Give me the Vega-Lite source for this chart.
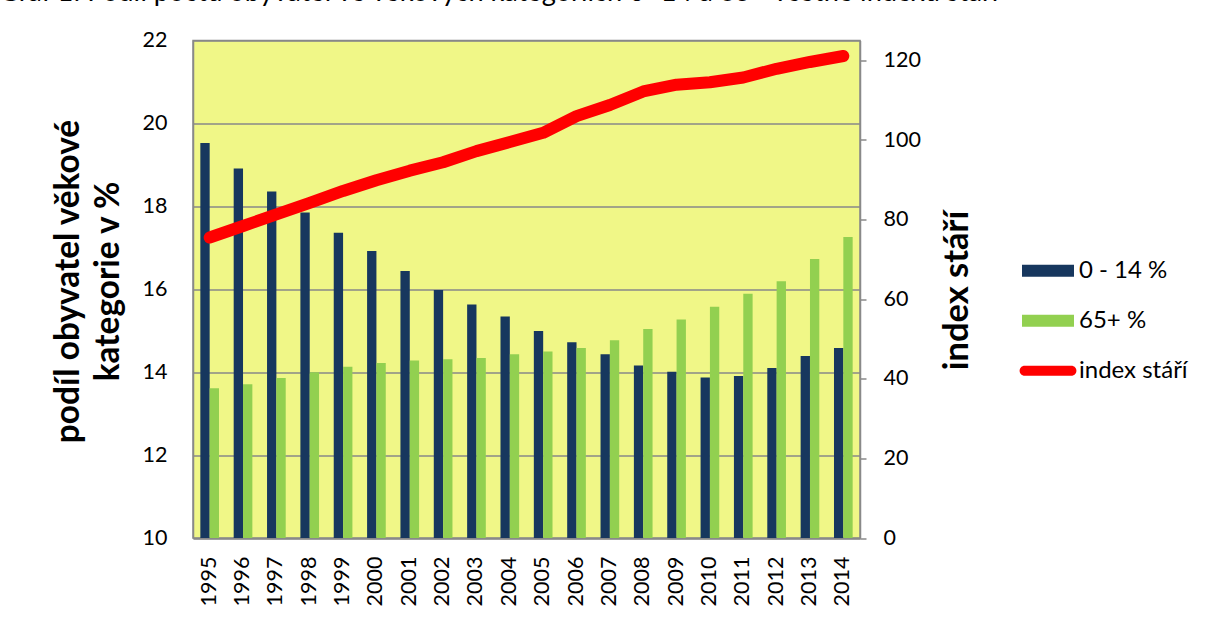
{
  "$schema": "https://vega.github.io/schema/vega-lite/v6.json",
  "width": 667,
  "height": 497.5,
  "autosize": {"type": "none"},
  "padding": {"left": 193, "top": 40.5, "right": 345, "bottom": 81},
  "background": "white",
  "config": {
    "font": "Lato",
    "view": {"fill": "#F0F787", "stroke": "#898989", "strokeWidth": 1.5},
    "axis": {"labelColor": "#000000", "labelFontSize": 21.5, "labelFont": "Lato", "domainColor": "#898989", "domainWidth": 1.5, "titleColor": "#000000", "titleFont": "Lato"},
    "legend": {"labelFont": "Lato", "labelFontSize": 24, "labelColor": "#000000"}
  },
  "title": {
    "text": "Graf 1: Podíl počtu obyvatel ve věkových kategoriích 0–14 a 65+ včetně indexu stáří",
    "anchor": "start",
    "frame": "group",
    "dx": -194,
    "offset": 1.5,
    "baseline": "alphabetic",
    "fontSize": 27.2,
    "fontWeight": "normal",
    "font": "Lato",
    "color": "#000000"
  },
  "datasets": {
    "bars": [
      {"year": "1995", "series": "0 - 14 %", "value": 19.53}, {"year": "1995", "series": "65+ %", "value": 13.61},
      {"year": "1996", "series": "0 - 14 %", "value": 18.91}, {"year": "1996", "series": "65+ %", "value": 13.71},
      {"year": "1997", "series": "0 - 14 %", "value": 18.36}, {"year": "1997", "series": "65+ %", "value": 13.86},
      {"year": "1998", "series": "0 - 14 %", "value": 17.85}, {"year": "1998", "series": "65+ %", "value": 14.0},
      {"year": "1999", "series": "0 - 14 %", "value": 17.36}, {"year": "1999", "series": "65+ %", "value": 14.13},
      {"year": "2000", "series": "0 - 14 %", "value": 16.92}, {"year": "2000", "series": "65+ %", "value": 14.22},
      {"year": "2001", "series": "0 - 14 %", "value": 16.44}, {"year": "2001", "series": "65+ %", "value": 14.28},
      {"year": "2002", "series": "0 - 14 %", "value": 15.98}, {"year": "2002", "series": "65+ %", "value": 14.31},
      {"year": "2003", "series": "0 - 14 %", "value": 15.63}, {"year": "2003", "series": "65+ %", "value": 14.34},
      {"year": "2004", "series": "0 - 14 %", "value": 15.34}, {"year": "2004", "series": "65+ %", "value": 14.43},
      {"year": "2005", "series": "0 - 14 %", "value": 14.99}, {"year": "2005", "series": "65+ %", "value": 14.5},
      {"year": "2006", "series": "0 - 14 %", "value": 14.72}, {"year": "2006", "series": "65+ %", "value": 14.58},
      {"year": "2007", "series": "0 - 14 %", "value": 14.43}, {"year": "2007", "series": "65+ %", "value": 14.77},
      {"year": "2008", "series": "0 - 14 %", "value": 14.16}, {"year": "2008", "series": "65+ %", "value": 15.04},
      {"year": "2009", "series": "0 - 14 %", "value": 14.01}, {"year": "2009", "series": "65+ %", "value": 15.27},
      {"year": "2010", "series": "0 - 14 %", "value": 13.87}, {"year": "2010", "series": "65+ %", "value": 15.58},
      {"year": "2011", "series": "0 - 14 %", "value": 13.91}, {"year": "2011", "series": "65+ %", "value": 15.89},
      {"year": "2012", "series": "0 - 14 %", "value": 14.1}, {"year": "2012", "series": "65+ %", "value": 16.19},
      {"year": "2013", "series": "0 - 14 %", "value": 14.39}, {"year": "2013", "series": "65+ %", "value": 16.73},
      {"year": "2014", "series": "0 - 14 %", "value": 14.58}, {"year": "2014", "series": "65+ %", "value": 17.26}
    ],
    "index": [
      {"year": "1995", "index": 75.5}, {"year": "1996", "index": 78.4}, {"year": "1997", "index": 81.3},
      {"year": "1998", "index": 84.2}, {"year": "1999", "index": 87.2}, {"year": "2000", "index": 89.9},
      {"year": "2001", "index": 92.3}, {"year": "2002", "index": 94.4}, {"year": "2003", "index": 97.2},
      {"year": "2004", "index": 99.5}, {"year": "2005", "index": 101.8}, {"year": "2006", "index": 106.0},
      {"year": "2007", "index": 108.8}, {"year": "2008", "index": 112.2}, {"year": "2009", "index": 113.9},
      {"year": "2010", "index": 114.5}, {"year": "2011", "index": 115.7}, {"year": "2012", "index": 117.9},
      {"year": "2013", "index": 119.6}, {"year": "2014", "index": 121.1}
    ]
  },
  "layer": [
    {
      "data": {"name": "bars"},
      "mark": {"type": "bar"},
      "encoding": {
        "x": {
          "field": "year", "type": "ordinal",
          "scale": {"paddingInner": 0.44, "paddingOuter": 0.22},
          "axis": {"title": null, "labelAngle": 270, "labelPadding": 18, "ticks": false, "domain": true}
        },
        "xOffset": {"field": "series", "type": "nominal", "scale": {"domain": ["0 - 14 %", "65+ %"], "paddingInner": 0, "paddingOuter": 0}},
        "y": {
          "field": "value", "type": "quantitative",
          "scale": {"domain": [10, 22], "nice": false, "zero": false},
          "axis": {
            "values": [10, 12, 14, 16, 18, 20, 22],
            "ticks": false,
            "labelPadding": 26,
            "grid": true,
            "gridColor": "#898989",
            "gridWidth": 1.5,
            "title": ["podíl obyvatel věkové", "kategorie v %"],
            "titleFontSize": 33.4,
            "titleFontWeight": "bold",
            "titleAngle": 270,
            "titleX": -125,
            "titleY": 240.5,
            "titleAlign": "center",
            "titleBaseline": "middle",
            "titleLineHeight": 40
          }
        },
        "y2": {"datum": 10},
        "color": {
          "field": "series", "type": "nominal",
          "scale": {"domain": ["0 - 14 %", "65+ %", "index stáří"], "range": ["#17375E", "#92D050", "#FF0000"]},
          "legend": {
            "title": null,
            "orient": "none",
            "legendX": 835,
            "legendY": 210.2,
            "padding": 0,
            "symbolSize": 1600,
            "symbolStrokeWidth": 0,
            "labelOffset": 11,
            "rowPadding": 18,
            "symbolType": "M-1.3,-0.3H1.3V0.3H-1.3Z",
            "encode": {
              "symbols": {
                "update": {
                  "shape": {"signal": "datum.label === 'index stáří' ? 'M-1.17,-0.25H1.17A0.25,0.25,0,0,1,1.17,0.25H-1.17A0.25,0.25,0,0,1,-1.17,-0.25Z' : 'M-1.3,-0.3H1.3V0.3H-1.3Z'"}
                }
              }
            }
          }
        }
      }
    },
    {
      "data": {"name": "index"},
      "mark": {"type": "line", "strokeWidth": 12, "strokeCap": "round", "strokeJoin": "round"},
      "encoding": {
        "x": {"field": "year", "type": "ordinal"},
        "y": {
          "field": "index", "type": "quantitative",
          "scale": {"domain": [0, 125], "nice": false},
          "axis": {
            "orient": "right",
            "values": [0, 20, 40, 60, 80, 100, 120],
            "ticks": true,
            "tickSize": 6,
            "tickColor": "#898989",
            "tickWidth": 1.5,
            "labelPadding": 17,
            "grid": false,
            "title": "index stáří",
            "titleFontSize": 34.5,
            "titleFontWeight": "bold",
            "titleAngle": 270,
            "titleX": 97,
            "titleY": 249.5,
            "titleAlign": "center",
            "titleBaseline": "middle"
          }
        },
        "color": {"datum": "index stáří"}
      }
    }
  ],
  "resolve": {"scale": {"y": "independent"}}
}
